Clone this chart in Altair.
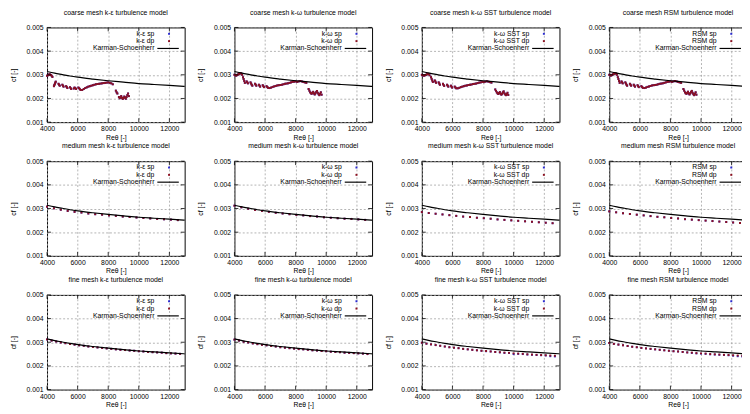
import altair as alt
import pandas as pd

FONT = "Liberation Sans"
SP_COLOR = "#2a2ad0"
DP_COLOR = "#8c1020"

X_TICKS = [4000, 6000, 8000, 10000, 12000]
Y_TICKS = [0.001, 0.002, 0.003, 0.004, 0.005]

# Karman-Schoenherr reference curve
RE_KS = [4000, 4500, 5000, 5500, 6000, 7000, 8000, 9000, 10000, 11000, 12000, 13000]
CF_KS = [0.00314, 0.00307, 0.00301, 0.00295, 0.00290, 0.00282, 0.00275, 0.00269,
         0.00263, 0.00259, 0.00255, 0.00251]

# ---------------- coarse mesh ----------------
RE_C_KE = [4000, 4050, 4100, 4150, 4200, 4250, 4300, 4350,
           4450, 4480, 4510, 4540, 4570,
           4750, 4790, 4830,
           5000, 5040, 5080,
           5250, 5290, 5330,
           5500, 5540, 5580,
           5750, 5800, 5850, 5900,
           6050, 6100, 6150, 6200,
           6300, 6400, 6500, 6600, 6700, 6800, 6900, 7000, 7100, 7200, 7300, 7400,
           7500, 7600, 7700, 7800, 7900, 8000, 8100, 8200, 8300,
           8500, 8550, 8600,
           8700, 8750, 8800, 8850, 8900, 8950, 9000, 9050, 9100, 9150, 9200, 9250, 9300, 9350]
CF_C_KE = [0.00296, 0.00298, 0.00300, 0.00302, 0.00301, 0.00299, 0.00296, 0.00291,
           0.00252, 0.00257, 0.00262, 0.00267, 0.00271,
           0.00262, 0.00258, 0.00254,
           0.00258, 0.00254, 0.00250,
           0.00252, 0.00248, 0.00244,
           0.00248, 0.00244, 0.00240,
           0.00242, 0.00246, 0.00244, 0.00240,
           0.00246, 0.00243, 0.00239, 0.00236,
           0.00236, 0.00240, 0.00244, 0.00247, 0.00250, 0.00252, 0.00254, 0.00256, 0.00258, 0.00260, 0.00261, 0.00262,
           0.00263, 0.00264, 0.00265, 0.00266, 0.00267, 0.00268, 0.00266, 0.00264, 0.00260,
           0.00233, 0.00226, 0.00221,
           0.00206, 0.00201, 0.00204, 0.00210, 0.00203, 0.00198, 0.00202, 0.00208, 0.00204, 0.00199, 0.00206, 0.00214, 0.00221, 0.00210]

RE_C_KW = [4000, 4050, 4100, 4150, 4200, 4250, 4300, 4350, 4400, 4450, 4500,
           4560, 4600, 4640, 4680,
           4800, 4840, 4880,
           5050, 5090, 5130, 5170,
           5350, 5390, 5430,
           5600, 5640, 5680,
           5850, 5890, 5930,
           6100, 6150, 6200,
           6300, 6400, 6500, 6600, 6700, 6800, 6900, 7000, 7100, 7200, 7300, 7400, 7500,
           7600, 7700, 7800, 7900, 8000, 8100, 8200, 8300, 8400, 8500, 8600, 8700,
           8850, 8900, 8950, 9000, 9050, 9100, 9150, 9200, 9250, 9300, 9350, 9400, 9450,
           9500, 9550, 9600, 9650, 9700]
CF_C_KW = [0.00300, 0.00298, 0.00297, 0.00298, 0.00300, 0.00302, 0.00304, 0.00306, 0.00307, 0.00305, 0.00300,
           0.00290, 0.00282, 0.00274, 0.00266,
           0.00272, 0.00268, 0.00264,
           0.00268, 0.00263, 0.00258, 0.00254,
           0.00262, 0.00258, 0.00254,
           0.00258, 0.00254, 0.00250,
           0.00256, 0.00252, 0.00248,
           0.00252, 0.00248, 0.00245,
           0.00244, 0.00246, 0.00249, 0.00251, 0.00253, 0.00255, 0.00256, 0.00257, 0.00258, 0.00260, 0.00262, 0.00263, 0.00264,
           0.00266, 0.00268, 0.00270, 0.00271, 0.00272, 0.00270, 0.00272, 0.00274, 0.00272, 0.00270, 0.00268, 0.00266,
           0.00240, 0.00233, 0.00226, 0.00222, 0.00220, 0.00224, 0.00228, 0.00221, 0.00217, 0.00222, 0.00228, 0.00232, 0.00224,
           0.00218, 0.00214, 0.00220, 0.00226, 0.00216]

RE_C_SST = [4000, 4050, 4100, 4150, 4200, 4250, 4300, 4350, 4400, 4450, 4500,
            4600, 4640, 4680, 4720,
            4850, 4890, 4930,
            5100, 5140, 5180,
            5380, 5420, 5460,
            5650, 5690, 5730,
            5900, 5940, 5980,
            6150, 6200, 6250,
            6350, 6450, 6550, 6650, 6750, 6850, 6950, 7050, 7150, 7250, 7350, 7450,
            7550, 7650, 7750, 7850, 7950, 8050, 8150, 8250, 8350, 8450, 8550,
            8800, 8850, 8900, 8950, 9000, 9050, 9100, 9150, 9200, 9250, 9300, 9350,
            9400, 9450, 9500, 9550, 9600, 9650]
CF_C_SST = [0.00300, 0.00298, 0.00297, 0.00297, 0.00298, 0.00299, 0.00301, 0.00303, 0.00304, 0.00303, 0.00298,
            0.00290, 0.00283, 0.00276, 0.00270,
            0.00276, 0.00271, 0.00266,
            0.00268, 0.00263, 0.00258,
            0.00262, 0.00257, 0.00253,
            0.00258, 0.00254, 0.00250,
            0.00254, 0.00250, 0.00246,
            0.00250, 0.00246, 0.00243,
            0.00243, 0.00245, 0.00248, 0.00250, 0.00252, 0.00254, 0.00255, 0.00257, 0.00258, 0.00259, 0.00261, 0.00262,
            0.00263, 0.00265, 0.00267, 0.00268, 0.00270, 0.00269, 0.00271, 0.00273, 0.00271, 0.00269, 0.00267,
            0.00238, 0.00232, 0.00226, 0.00222, 0.00219, 0.00223, 0.00227, 0.00220, 0.00216, 0.00220, 0.00226, 0.00230,
            0.00222, 0.00217, 0.00214, 0.00219, 0.00224, 0.00215]

# RSM coarse looks the same as k-omega coarse in the picture
RE_C_RSM = RE_C_KW
CF_C_RSM = CF_C_KW

# ---------------- medium mesh ----------------
RE_MED = [4000, 4450, 4900, 5350, 5800, 6250, 6700, 7150, 7600, 8050,
          8500, 8950, 9400, 9850, 10300, 10750, 11200, 11650, 12100, 12550]
CF_M_KE = [0.00308, 0.00301, 0.00295, 0.00290, 0.00286, 0.00283, 0.00279, 0.00276, 0.00274, 0.00271,
           0.00269, 0.00266, 0.00264, 0.00262, 0.00260, 0.00258, 0.00256, 0.00255, 0.00253, 0.00251]
CF_M_KW = [0.00312, 0.00305, 0.00299, 0.00294, 0.00290, 0.00286, 0.00282, 0.00279, 0.00276, 0.00273,
           0.00271, 0.00268, 0.00266, 0.00263, 0.00261, 0.00259, 0.00257, 0.00256, 0.00254, 0.00252]
CF_M_SST = [0.00285, 0.00281, 0.00278, 0.00275, 0.00272, 0.00269, 0.00266, 0.00264, 0.00261, 0.00259,
            0.00257, 0.00254, 0.00252, 0.00250, 0.00248, 0.00246, 0.00244, 0.00242, 0.00240, 0.00238]
CF_M_RSM = [0.00288, 0.00284, 0.00280, 0.00277, 0.00274, 0.00271, 0.00268, 0.00265, 0.00263, 0.00260,
            0.00258, 0.00255, 0.00253, 0.00251, 0.00249, 0.00247, 0.00245, 0.00243, 0.00241, 0.00239]

# ---------------- fine mesh ----------------
RE_FINE = [4000, 4300, 4600, 4900, 5200, 5500, 5800, 6100, 6400, 6700,
           7000, 7300, 7600, 7900, 8200, 8500, 8800, 9100, 9400, 9700,
           10000, 10300, 10600, 10900, 11200, 11500, 11800, 12100, 12400, 12700]
CF_F_KE = [0.00312, 0.00307, 0.00303, 0.00299, 0.00296, 0.00293, 0.00290, 0.00287, 0.00285, 0.00282,
           0.00280, 0.00278, 0.00276, 0.00274, 0.00272, 0.00270, 0.00268, 0.00267, 0.00265, 0.00264,
           0.00262, 0.00261, 0.00259, 0.00258, 0.00257, 0.00256, 0.00254, 0.00253, 0.00252, 0.00251]
CF_F_KW = [0.00311, 0.00307, 0.00302, 0.00299, 0.00295, 0.00292, 0.00289, 0.00287, 0.00284, 0.00282,
           0.00279, 0.00277, 0.00275, 0.00273, 0.00271, 0.00270, 0.00268, 0.00266, 0.00265, 0.00263,
           0.00262, 0.00260, 0.00259, 0.00258, 0.00256, 0.00255, 0.00254, 0.00253, 0.00252, 0.00250]
CF_F_SST_DP = [0.00298, 0.00294, 0.00291, 0.00288, 0.00285, 0.00282, 0.00279, 0.00277, 0.00275, 0.00272,
               0.00270, 0.00268, 0.00266, 0.00264, 0.00263, 0.00261, 0.00259, 0.00258, 0.00256, 0.00255,
               0.00253, 0.00252, 0.00251, 0.00249, 0.00248, 0.00247, 0.00246, 0.00245, 0.00244, 0.00243]
CF_F_SST_SP = [0.00298, 0.00294, 0.00291, 0.00288, 0.00285, 0.00282, 0.00279, 0.00277, 0.00275, 0.00272,
               0.00270, 0.00268, 0.00266, 0.00264, 0.00262, 0.00261, 0.00259, 0.00257, 0.00255, 0.00254,
               0.00250, 0.00251, 0.00250, 0.00248, 0.00247, 0.00246, 0.00245, 0.00244, 0.00241, 0.00240]
CF_F_RSM_DP = [0.00297, 0.00293, 0.00290, 0.00287, 0.00284, 0.00281, 0.00279, 0.00276, 0.00274, 0.00272,
               0.00270, 0.00268, 0.00266, 0.00264, 0.00262, 0.00261, 0.00259, 0.00257, 0.00256, 0.00254,
               0.00253, 0.00252, 0.00250, 0.00249, 0.00248, 0.00247, 0.00246, 0.00245, 0.00244, 0.00243]
CF_F_RSM_SP = [0.00297, 0.00293, 0.00290, 0.00287, 0.00284, 0.00281, 0.00279, 0.00276, 0.00274, 0.00272,
               0.00270, 0.00268, 0.00266, 0.00264, 0.00262, 0.00261, 0.00259, 0.00257, 0.00255, 0.00253,
               0.00252, 0.00251, 0.00249, 0.00248, 0.00247, 0.00246, 0.00245, 0.00243, 0.00241, 0.00240]

MODELS = ["k-ε", "k-ω", "k-ω SST", "RSM"]
MESHES = ["coarse", "medium", "fine"]

DATA = {
    ("coarse", 0): (RE_C_KE, CF_C_KE, RE_C_KE, CF_C_KE),
    ("coarse", 1): (RE_C_KW, CF_C_KW, RE_C_KW, CF_C_KW),
    ("coarse", 2): (RE_C_SST, CF_C_SST, RE_C_SST, CF_C_SST),
    ("coarse", 3): (RE_C_RSM, CF_C_RSM, RE_C_RSM, CF_C_RSM),
    ("medium", 0): (RE_MED, CF_M_KE, RE_MED, CF_M_KE),
    ("medium", 1): (RE_MED, CF_M_KW, RE_MED, CF_M_KW),
    ("medium", 2): (RE_MED, CF_M_SST, RE_MED, CF_M_SST),
    ("medium", 3): (RE_MED, CF_M_RSM, RE_MED, CF_M_RSM),
    ("fine", 0): (RE_FINE, CF_F_KE, RE_FINE, CF_F_KE),
    ("fine", 1): (RE_FINE, CF_F_KW, RE_FINE, CF_F_KW),
    ("fine", 2): (RE_FINE, CF_F_SST_SP, RE_FINE, CF_F_SST_DP),
    ("fine", 3): (RE_FINE, CF_F_RSM_SP, RE_FINE, CF_F_RSM_DP),
}

W, H = 141, 97
PT = 4


def panel(mesh, mi):
    model = MODELS[mi]
    re_sp, cf_sp, re_dp, cf_dp = DATA[(mesh, mi)]
    xs = alt.Scale(domain=[4000, 13000], nice=False, zero=False)
    ys = alt.Scale(domain=[0.001, 0.005], nice=False, zero=False)
    xa = alt.Axis(values=X_TICKS, format="d", title="Reθ [-]")
    ya = alt.Axis(values=Y_TICKS, format=".3f", title="cf [-]")
    sp_df = pd.DataFrame({"Re": re_sp, "cf": cf_sp})
    dp_df = pd.DataFrame({"Re": re_dp, "cf": cf_dp})
    ks_df = pd.DataFrame({"Re": RE_KS, "cf": CF_KS})
    enc = dict(x=alt.X("Re:Q", scale=xs, axis=xa), y=alt.Y("cf:Q", scale=ys, axis=ya))
    sp = alt.Chart(sp_df).mark_square(size=PT, color=SP_COLOR, opacity=1).encode(**enc)
    dp = alt.Chart(dp_df).mark_square(size=PT, color=DP_COLOR, opacity=1).encode(**enc)
    line = alt.Chart(ks_df).mark_line(color="black", strokeWidth=1.2, interpolate="monotone").encode(**enc)

    # inward tick marks on all four borders (gnuplot style)
    xt = pd.DataFrame({"v": X_TICKS})
    yt = pd.DataFrame({"v": Y_TICKS})
    tx = alt.X("v:Q", scale=xs, axis=xa)
    ty = alt.Y("v:Q", scale=ys, axis=ya)
    ticks = [
        alt.Chart(xt).mark_rule(color="black", strokeWidth=0.8).encode(x=tx, y=alt.value(H), y2=alt.value(H - 4)),
        alt.Chart(xt).mark_rule(color="black", strokeWidth=0.8).encode(x=tx, y=alt.value(0), y2=alt.value(4)),
        alt.Chart(yt).mark_rule(color="black", strokeWidth=0.8).encode(y=ty, x=alt.value(0), x2=alt.value(4)),
        alt.Chart(yt).mark_rule(color="black", strokeWidth=0.8).encode(y=ty, x=alt.value(W - 4), x2=alt.value(W)),
    ]

    labels = [f"{model} sp", f"{model} dp", "Karman-Schoenherr"]
    ys_leg = [6.5, 14, 21.5]
    leg = []
    for lab, yy in zip(labels, ys_leg):
        leg.append(
            alt.Chart(pd.DataFrame({"t": [lab]}))
            .mark_text(align="right", baseline="middle", font=FONT, fontSize=7, color="black")
            .encode(x=alt.value(110), y=alt.value(yy), text="t:N")
        )
    leg.append(alt.Chart(pd.DataFrame({"t": ["sp"]})).mark_square(size=PT, color=SP_COLOR, opacity=1)
               .encode(x=alt.value(125), y=alt.value(ys_leg[0])))
    leg.append(alt.Chart(pd.DataFrame({"t": ["dp"]})).mark_square(size=PT, color=DP_COLOR, opacity=1)
               .encode(x=alt.value(125), y=alt.value(ys_leg[1])))
    leg.append(alt.Chart(pd.DataFrame({"t": ["ks"]})).mark_rule(color="black", strokeWidth=1.2)
               .encode(x=alt.value(113), x2=alt.value(135), y=alt.value(ys_leg[2])))

    return alt.layer(sp, dp, line, *ticks, *leg).properties(
        width=W, height=H, title=f"{mesh} mesh {model} turbulence model"
    )


rows = [alt.hconcat(*[panel(m, i) for i in range(4)], spacing=8) for m in MESHES]

chart = (
    alt.vconcat(*rows, spacing=1)
    .properties(padding={"left": 0, "top": -5, "right": -8, "bottom": -2})
    .configure_view(stroke="black", strokeWidth=1)
    .configure_axis(
        grid=True, gridColor="#a0a0a0", gridDash=[2, 2], gridWidth=0.8,
        domain=False, ticks=False, labelFlush=False,
        labelFont=FONT, labelFontSize=7, labelColor="black",
        titleFont=FONT, titleFontSize=7, titleFontWeight="normal", titleColor="black",
    )
    .configure_axisX(labelPadding=3, titlePadding=1.5)
    .configure_axisY(labelPadding=4, titlePadding=10)
    .configure_title(font=FONT, fontSize=7, fontWeight="normal", offset=8, frame="group", color="black")
)

chart.save("out.html", embed_options={"renderer": "svg", "actions": False})
